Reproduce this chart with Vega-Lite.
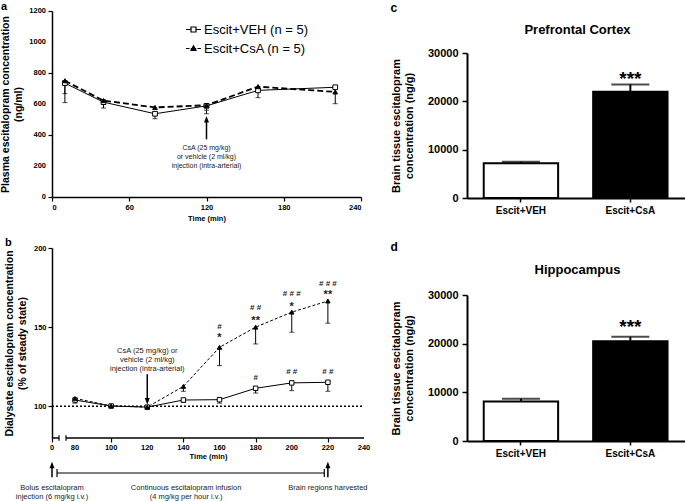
{
  "$schema": "https://vega.github.io/schema/vega-lite/v6.json",
  "padding": {"left": 0, "top": 0, "right": 0, "bottom": 0},
  "background": "white",
  "config": {
    "font": "Liberation Sans",
    "view": {"stroke": null},
    "axis": {"domainColor": "black", "tickColor": "black", "labelColor": "black", "titleColor": "black", "grid": false, "labelFontWeight": "bold", "titleFontWeight": "bold", "domainWidth": 1.5, "tickWidth": 1.2},
    "title": {"color": "black"}
  },
  "datasets": {
    "aData": [
      {"group": "Escit+VEH (n = 5)", "t": 10, "y": 735, "lo": 667},
      {"group": "Escit+VEH (n = 5)", "t": 40, "y": 612, "lo": 574},
      {"group": "Escit+VEH (n = 5)", "t": 80, "y": 537, "lo": 505},
      {"group": "Escit+VEH (n = 5)", "t": 120, "y": 588, "lo": 537},
      {"group": "Escit+VEH (n = 5)", "t": 160, "y": 688, "lo": 641},
      {"group": "Escit+VEH (n = 5)", "t": 220, "y": 708, "lo": null},
      {"group": "Escit+CsA (n = 5)", "t": 10, "y": 750, "lo": 609},
      {"group": "Escit+CsA (n = 5)", "t": 40, "y": 622, "lo": 598},
      {"group": "Escit+CsA (n = 5)", "t": 80, "y": 578, "lo": null},
      {"group": "Escit+CsA (n = 5)", "t": 120, "y": 592, "lo": 560},
      {"group": "Escit+CsA (n = 5)", "t": 160, "y": 712, "lo": null},
      {"group": "Escit+CsA (n = 5)", "t": 220, "y": 678, "lo": 602}
    ],
    "aYLabels": [{"v": 0}, {"v": 200}, {"v": 400}, {"v": 600}, {"v": 800}, {"v": 1000}, {"v": 1200}],
    "aNote": [
      {"t": 120, "y": 318, "text": "CsA (25 mg/kg)"},
      {"t": 120, "y": 260, "text": "or vehicle (2 ml/kg)"},
      {"t": 120, "y": 200, "text": "injection (intra-arterial)"}
    ],
    "aArrow": [{"t": 120, "y1": 372, "y2": 495, "tip": 522}],
    "bData": [
      {"group": "Escit+VEH (n = 5)", "t": 80, "y": 104, "lo": 102},
      {"group": "Escit+VEH (n = 5)", "t": 100, "y": 100.2, "lo": null},
      {"group": "Escit+VEH (n = 5)", "t": 120, "y": 99.5, "lo": null},
      {"group": "Escit+VEH (n = 5)", "t": 140, "y": 104, "lo": 102.5},
      {"group": "Escit+VEH (n = 5)", "t": 160, "y": 104.2, "lo": 102},
      {"group": "Escit+VEH (n = 5)", "t": 180, "y": 111.4, "lo": 108.4},
      {"group": "Escit+VEH (n = 5)", "t": 200, "y": 114.8, "lo": 109.9},
      {"group": "Escit+VEH (n = 5)", "t": 220, "y": 115.2, "lo": 109.5},
      {"group": "Escit+CsA (n = 5)", "t": 80, "y": 105, "lo": null},
      {"group": "Escit+CsA (n = 5)", "t": 100, "y": 100.3, "lo": null},
      {"group": "Escit+CsA (n = 5)", "t": 120, "y": 99.5, "lo": null},
      {"group": "Escit+CsA (n = 5)", "t": 140, "y": 112.6, "lo": 109.5},
      {"group": "Escit+CsA (n = 5)", "t": 160, "y": 137.3, "lo": 125.7},
      {"group": "Escit+CsA (n = 5)", "t": 180, "y": 150, "lo": 139.4},
      {"group": "Escit+CsA (n = 5)", "t": 200, "y": 159.5, "lo": 146.8},
      {"group": "Escit+CsA (n = 5)", "t": 220, "y": 166.5, "lo": 152.5}
    ],
    "bXLabels": [{"t": 0}, {"t": 80}, {"t": 100}, {"t": 120}, {"t": 140}, {"t": 160}, {"t": 180}, {"t": 200}, {"t": 220}, {"t": 240}],
    "bSig": [
      {"t": 160, "y": 150, "text": "#"},
      {"t": 160, "y": 142.9, "text": "*"},
      {"t": 180, "y": 162, "text": "# #"},
      {"t": 180, "y": 153.6, "text": "**"},
      {"t": 200, "y": 170.7, "text": "# # #"},
      {"t": 200, "y": 162.7, "text": "*"},
      {"t": 220, "y": 177.4, "text": "# # #"},
      {"t": 220, "y": 170.1, "text": "**"},
      {"t": 180, "y": 118, "text": "#"},
      {"t": 200, "y": 121.5, "text": "# #"},
      {"t": 220, "y": 121.5, "text": "# #"}
    ],
    "bNote": [
      {"t": 120, "y": 134.8, "text": "CsA (25 mg/kg) or"},
      {"t": 120, "y": 129.1, "text": "vehicle (2 ml/kg)"},
      {"t": 120, "y": 123.4, "text": "injection (intra-arterial)"},
      {"t": 0, "y": 48.4, "text": "Bolus escitalopram"},
      {"t": 0, "y": 42.8, "text": "injection (6 mg/kg i.v.)"},
      {"t": 141.5, "y": 48.4, "text": "Continuous escitalopram infusion"},
      {"t": 141.5, "y": 42.8, "text": "(4 mg/kg per hour i.v.)"},
      {"t": 220, "y": 48.4, "text": "Brain regions harvested"}
    ],
    "bDownArrow": [{"t": 120, "y1": 120.3, "y2": 104, "tip": 101.2}],
    "bUpArrows": [
      {"t": 0, "y1": 55.2, "y2": 62, "tip": 65},
      {"t": 220, "y1": 55.2, "y2": 62, "tip": 65}
    ],
    "bAxisLine": [
      {"a": 0, "b": 37.5},
      {"a": 75, "b": 240}
    ],
    "bBreaks": [{"t": 37.5}, {"t": 75}],
    "bBracket": [{"a": 27, "b": 218}],
    "bBracketEnds": [{"t": 27}, {"t": 218}],
    "cData": [
      {"grp": "Escit+VEH", "v": 7200, "err": 7500},
      {"grp": "Escit+CsA", "v": 22000, "err": 23500, "sig": "***"}
    ],
    "dData": [
      {"grp": "Escit+VEH", "v": 8100, "err": 8700},
      {"grp": "Escit+CsA", "v": 20500, "err": 21400, "sig": "***"}
    ]
  },
  "spacing": 19,
  "align": "none",
  "hconcat": [
    {
      "spacing": 15,
      "vconcat": [
        {
          "width": 309,
          "height": 186,
          "title": {"text": "a", "anchor": "start", "frame": "bounds", "fontSize": 11, "fontWeight": "bold", "offset": -4.5},
          "layer": [
            {
              "data": {"name": "aData"},
              "transform": [{"filter": "datum.group === 'Escit+VEH (n = 5)'"}],
              "mark": {"type": "line", "color": "black", "strokeWidth": 1},
              "encoding": {
                "x": {"field": "t", "type": "quantitative", "scale": {"domain": [0, 240], "nice": false},
                  "axis": {"values": [0, 30, 60, 90, 120, 150, 180, 210, 240], "labelExpr": "datum.value % 60 == 0 ? datum.label : ''", "labelOverlap": false, "title": "Time (min)", "labelFontSize": 7.5, "titleFontSize": 7.5, "tickSize": 4, "labelPadding": 2, "titlePadding": 4}},
                "y": {"field": "y", "type": "quantitative", "scale": {"domain": [0, 1200], "nice": false},
                  "axis": {"values": [0, 100, 200, 300, 400, 500, 600, 700, 800, 900, 1000, 1100, 1200], "labels": false, "title": ["Plasma escitalopram concentration", "(ng/ml)"], "titleFontSize": 10.5, "tickSize": 4, "titlePadding": 24}}
              }
            },
            {
              "data": {"name": "aYLabels"},
              "mark": {"type": "text", "fontSize": 7.5, "fontWeight": "bold", "color": "black", "align": "right", "baseline": "middle", "dx": -6, "clip": false},
              "encoding": {
                "x": {"datum": 0, "type": "quantitative"},
                "y": {"field": "v", "type": "quantitative"},
                "text": {"field": "v", "type": "quantitative", "format": "d"}
              }
            },
            {
              "data": {"name": "aData"},
              "transform": [{"filter": "datum.group === 'Escit+CsA (n = 5)'"}],
              "mark": {"type": "line", "color": "black", "strokeWidth": 1.8, "strokeDash": [6, 3]},
              "encoding": {
                "x": {"field": "t", "type": "quantitative"},
                "y": {"field": "y", "type": "quantitative"}
              }
            },
            {
              "data": {"name": "aData"},
              "transform": [{"filter": "isValid(datum.lo)"}],
              "mark": {"type": "rule", "color": "black", "strokeWidth": 1},
              "encoding": {
                "x": {"field": "t", "type": "quantitative"},
                "y": {"field": "y", "type": "quantitative"},
                "y2": {"field": "lo"}
              }
            },
            {
              "data": {"name": "aData"},
              "transform": [{"filter": "isValid(datum.lo)"}],
              "mark": {"type": "tick", "orient": "horizontal", "color": "black", "size": 5, "thickness": 1},
              "encoding": {
                "x": {"field": "t", "type": "quantitative"},
                "y": {"field": "lo", "type": "quantitative"}
              }
            },
            {
              "data": {"name": "aData"},
              "mark": {"type": "point", "filled": true, "opacity": 1, "stroke": "black", "strokeWidth": 1},
              "encoding": {
                "x": {"field": "t", "type": "quantitative"},
                "y": {"field": "y", "type": "quantitative"},
                "shape": {"condition": {"test": "datum.group === 'Escit+VEH (n = 5)'", "value": "square"}, "value": "triangle-up"},
                "fill": {"condition": {"test": "datum.group === 'Escit+VEH (n = 5)'", "value": "white"}, "value": "black"},
                "size": {"value": 22}
              }
            },
            {
              "data": {"name": "aData"},
              "mark": {"type": "point", "filled": true, "opacity": 0, "strokeWidth": 1.2},
              "encoding": {
                "x": {"field": "t", "type": "quantitative"},
                "y": {"field": "y", "type": "quantitative"},
                "shape": {"field": "group", "type": "nominal", "scale": {"domain": ["Escit+VEH (n = 5)", "Escit+CsA (n = 5)"], "range": ["M-3,0H-1M1,0H3M-1,-1H1V1H-1Z", "M-3,0H-1.6M-1.1,0H-0.6M0.6,0H1.1M1.6,0H3M0,-1.1L1,0.8H-1Z"]},
                  "legend": {"orient": "none", "legendX": 135, "legendY": 12, "title": null, "labelFontSize": 13, "labelFontWeight": "normal", "labelColor": "black", "symbolSize": 25, "rowPadding": 5, "labelOffset": 4, "symbolStrokeWidth": 1.2, "symbolOpacity": 1, "padding": 0}},
                "fill": {"field": "group", "type": "nominal", "scale": {"domain": ["Escit+VEH (n = 5)", "Escit+CsA (n = 5)"], "range": ["white", "black"]},
                  "legend": {"orient": "none", "legendX": 135, "legendY": 12, "title": null, "labelFontSize": 13, "labelFontWeight": "normal", "labelColor": "black", "symbolSize": 25, "rowPadding": 5, "labelOffset": 4, "symbolStrokeWidth": 1.2, "symbolOpacity": 1, "padding": 0}},
                "stroke": {"field": "group", "type": "nominal", "scale": {"domain": ["Escit+VEH (n = 5)", "Escit+CsA (n = 5)"], "range": ["black", "black"]},
                  "legend": {"orient": "none", "legendX": 135, "legendY": 12, "title": null, "labelFontSize": 13, "labelFontWeight": "normal", "labelColor": "black", "symbolSize": 25, "rowPadding": 5, "labelOffset": 4, "symbolStrokeWidth": 1.2, "symbolOpacity": 1, "padding": 0}},
                "size": {"value": 25}
              }
            },
            {
              "data": {"name": "aArrow"},
              "mark": {"type": "rule", "color": "black", "strokeWidth": 1.5},
              "encoding": {
                "x": {"field": "t", "type": "quantitative"},
                "y": {"field": "y1", "type": "quantitative"},
                "y2": {"field": "y2"}
              }
            },
            {
              "data": {"name": "aArrow"},
              "mark": {"type": "point", "filled": true, "color": "black", "opacity": 1, "shape": "M-1,2.6L1,2.6L0,0Z", "size": 25},
              "encoding": {
                "x": {"field": "t", "type": "quantitative"},
                "y": {"field": "tip", "type": "quantitative"}
              }
            },
            {
              "data": {"name": "aNote"},
              "mark": {"type": "text", "fontSize": 7, "color": "#222", "baseline": "middle", "align": "center"},
              "encoding": {
                "x": {"field": "t", "type": "quantitative"},
                "y": {"field": "y", "type": "quantitative"},
                "text": {"field": "text"}
              }
            }
          ]
        },
        {
          "width": 312,
          "height": 190,
          "title": {"text": "b", "anchor": "start", "frame": "bounds", "fontSize": 11, "fontWeight": "bold", "offset": -4},
          "layer": [
            {
              "data": {"values": [{"v": 100, "a": 0, "b": 240}]},
              "mark": {"type": "rule", "color": "black", "strokeWidth": 1.5, "strokeDash": [2, 2]},
              "encoding": {
                "x": {"field": "a", "type": "quantitative", "scale": {"domain": [0, 75, 240], "range": [0, 14, 312], "nice": false, "zero": false},
                  "axis": {"values": [0, 80, 100, 120, 140, 160, 180, 200, 220, 240], "labels": false, "domain": false, "title": "Time (min)", "titleFontSize": 7.5, "tickSize": 4, "titlePadding": 10}},
                "x2": {"field": "b"},
                "y": {"field": "v", "type": "quantitative", "scale": {"domain": [80, 200], "nice": false, "zero": false},
                  "axis": {"values": [100, 150, 200], "labelOverlap": false, "title": ["Dialysate escitalopram concentration", "(% of steady state)"], "labelFontSize": 7.5, "titleFontSize": 10.5, "tickSize": 4, "labelPadding": 2, "titlePadding": 6}}
              }
            },
            {
              "data": {"name": "bXLabels"},
              "mark": {"type": "text", "fontSize": 7.5, "fontWeight": "bold", "color": "black", "align": "center", "baseline": "top", "dy": 6, "clip": false},
              "encoding": {
                "x": {"field": "t", "type": "quantitative"},
                "y": {"datum": 80, "type": "quantitative"},
                "text": {"field": "t", "type": "quantitative", "format": "d"}
              }
            },
            {
              "data": {"name": "bAxisLine"},
              "mark": {"type": "rule", "color": "black", "strokeWidth": 1.5, "clip": false},
              "encoding": {
                "x": {"field": "a", "type": "quantitative"},
                "x2": {"field": "b"},
                "y": {"datum": 80}
              }
            },
            {
              "data": {"name": "bBreaks"},
              "mark": {"type": "rule", "color": "black", "strokeWidth": 1.2, "clip": false},
              "encoding": {
                "x": {"field": "t", "type": "quantitative"},
                "y": {"datum": 78.2},
                "y2": {"datum": 81.8}
              }
            },
            {
              "data": {"name": "bData"},
              "transform": [{"filter": "datum.group === 'Escit+VEH (n = 5)'"}],
              "mark": {"type": "line", "color": "black", "strokeWidth": 1},
              "encoding": {
                "x": {"field": "t", "type": "quantitative"},
                "y": {"field": "y", "type": "quantitative"}
              }
            },
            {
              "data": {"name": "bData"},
              "transform": [{"filter": "datum.group === 'Escit+CsA (n = 5)'"}],
              "mark": {"type": "line", "color": "black", "strokeWidth": 1, "strokeDash": [3, 2]},
              "encoding": {
                "x": {"field": "t", "type": "quantitative"},
                "y": {"field": "y", "type": "quantitative"}
              }
            },
            {
              "data": {"name": "bData"},
              "transform": [{"filter": "isValid(datum.lo)"}],
              "mark": {"type": "rule", "color": "black", "strokeWidth": 1},
              "encoding": {
                "x": {"field": "t", "type": "quantitative"},
                "y": {"field": "y", "type": "quantitative"},
                "y2": {"field": "lo"}
              }
            },
            {
              "data": {"name": "bData"},
              "transform": [{"filter": "isValid(datum.lo)"}],
              "mark": {"type": "tick", "orient": "horizontal", "color": "black", "size": 5, "thickness": 1},
              "encoding": {
                "x": {"field": "t", "type": "quantitative"},
                "y": {"field": "lo", "type": "quantitative"}
              }
            },
            {
              "data": {"name": "bData"},
              "mark": {"type": "point", "filled": true, "opacity": 1, "stroke": "black", "strokeWidth": 1},
              "encoding": {
                "x": {"field": "t", "type": "quantitative"},
                "y": {"field": "y", "type": "quantitative"},
                "shape": {"condition": {"test": "datum.group === 'Escit+VEH (n = 5)'", "value": "square"}, "value": "triangle-up"},
                "fill": {"condition": {"test": "datum.group === 'Escit+VEH (n = 5)'", "value": "white"}, "value": "black"},
                "size": {"value": 20}
              }
            },
            {
              "data": {"name": "bSig"},
              "mark": {"type": "text", "fontSize": 8, "fontWeight": "bold", "color": "#222", "baseline": "middle", "align": "center"},
              "encoding": {
                "x": {"field": "t", "type": "quantitative"},
                "y": {"field": "y", "type": "quantitative"},
                "text": {"field": "text"},
                "size": {"condition": {"test": "indexof(datum.text, '*') >= 0", "value": 11}, "value": 8}
              }
            },
            {
              "data": {"name": "bDownArrow"},
              "mark": {"type": "rule", "color": "black", "strokeWidth": 1.5},
              "encoding": {
                "x": {"field": "t", "type": "quantitative"},
                "y": {"field": "y1", "type": "quantitative"},
                "y2": {"field": "y2"}
              }
            },
            {
              "data": {"name": "bDownArrow"},
              "mark": {"type": "point", "filled": true, "color": "black", "opacity": 1, "size": 25, "shape": "M-1,-2.6L1,-2.6L0,0Z"},
              "encoding": {
                "x": {"field": "t", "type": "quantitative"},
                "y": {"field": "tip", "type": "quantitative"}
              }
            },
            {
              "data": {"name": "bUpArrows"},
              "mark": {"type": "rule", "color": "black", "strokeWidth": 1.5, "clip": false},
              "encoding": {
                "x": {"field": "t", "type": "quantitative"},
                "y": {"field": "y1", "type": "quantitative"},
                "y2": {"field": "y2"}
              }
            },
            {
              "data": {"name": "bUpArrows"},
              "mark": {"type": "point", "filled": true, "color": "black", "opacity": 1, "size": 25, "shape": "M-1,2.6L1,2.6L0,0Z", "clip": false},
              "encoding": {
                "x": {"field": "t", "type": "quantitative"},
                "y": {"field": "tip", "type": "quantitative"}
              }
            },
            {
              "data": {"name": "bBracket"},
              "mark": {"type": "rule", "color": "black", "strokeWidth": 1.2, "clip": false},
              "encoding": {
                "x": {"field": "a", "type": "quantitative"},
                "x2": {"field": "b"},
                "y": {"datum": 57.9}
              }
            },
            {
              "data": {"name": "bBracketEnds"},
              "mark": {"type": "rule", "color": "black", "strokeWidth": 1.2, "clip": false},
              "encoding": {
                "x": {"field": "t", "type": "quantitative"},
                "y": {"datum": 55.4},
                "y2": {"datum": 60.5}
              }
            },
            {
              "data": {"name": "bNote"},
              "mark": {"type": "text", "fontSize": 7.5, "color": "#222", "baseline": "middle", "align": "center", "clip": false},
              "encoding": {
                "x": {"field": "t", "type": "quantitative"},
                "y": {"field": "y", "type": "quantitative"},
                "text": {"field": "text"}
              }
            }
          ]
        }
      ]
    },
    {
      "spacing": 26,
      "vconcat": [
        {
          "title": {"text": "c", "anchor": "start", "frame": "bounds", "fontSize": 12, "fontWeight": "bold", "offset": -4},
          "vconcat": [
            {
              "width": 221,
              "height": 187,
              "title": {"text": "Prefrontal Cortex", "fontSize": 13, "fontWeight": "bold", "anchor": "middle", "offset": -26},
              "data": {"name": "cData"},
              "layer": [
                {
                  "mark": {"type": "bar", "stroke": "black", "strokeWidth": 2},
                  "encoding": {
                    "x": {"field": "grp", "type": "nominal", "sort": null, "scale": {"paddingInner": 0.32, "paddingOuter": 0.17, "align": 0.45},
                      "axis": {"title": null, "labelAngle": 0, "labelFontSize": 10, "tickSize": 4, "domainWidth": 2, "tickWidth": 1.5, "labelPadding": 3}},
                    "y": {"field": "v", "type": "quantitative", "scale": {"domain": [0, 30000], "nice": false, "range": [187, 42]},
                      "axis": {"values": [0, 5000, 10000, 15000, 20000, 25000, 30000], "labelExpr": "datum.value % 10000 == 0 ? datum.label : ''", "labelOverlap": false, "format": "d", "title": ["Brain tissue escitalopram", "concentration (ng/g)"], "labelFontSize": 11, "titleFontSize": 11, "tickSize": 5, "domainWidth": 2, "tickWidth": 1.5, "labelPadding": 4, "titlePadding": 13}},
                    "fill": {"condition": {"test": "datum.grp === 'Escit+VEH'", "value": "white"}, "value": "black"}
                  }
                },
                {
                  "mark": {"type": "rule", "color": "black", "strokeWidth": 2},
                  "encoding": {
                    "x": {"field": "grp", "type": "nominal", "sort": null},
                    "y": {"field": "v", "type": "quantitative"},
                    "y2": {"field": "err"}
                  }
                },
                {
                  "mark": {"type": "tick", "orient": "horizontal", "color": "black", "size": 38, "thickness": 2},
                  "encoding": {
                    "x": {"field": "grp", "type": "nominal", "sort": null},
                    "y": {"field": "err", "type": "quantitative"}
                  }
                },
                {
                  "transform": [{"filter": "isValid(datum.sig)"}],
                  "mark": {"type": "text", "fontSize": 19, "fontWeight": "bold", "color": "black", "baseline": "alphabetic", "align": "center", "dy": 1},
                  "encoding": {
                    "x": {"field": "grp", "type": "nominal", "sort": null},
                    "y": {"field": "err", "type": "quantitative"},
                    "text": {"field": "sig"}
                  }
                }
              ]
            }
          ]
        },
        {
          "title": {"text": "d", "anchor": "start", "frame": "bounds", "fontSize": 12, "fontWeight": "bold", "offset": 10},
          "vconcat": [
            {
              "width": 221,
              "height": 146,
              "title": {"text": "Hippocampus", "fontSize": 13, "fontWeight": "bold", "anchor": "middle", "offset": 12},
              "data": {"name": "dData"},
              "layer": [
                {
                  "mark": {"type": "bar", "stroke": "black", "strokeWidth": 2},
                  "encoding": {
                    "x": {"field": "grp", "type": "nominal", "sort": null, "scale": {"paddingInner": 0.32, "paddingOuter": 0.17, "align": 0.45},
                      "axis": {"title": null, "labelAngle": 0, "labelFontSize": 10, "tickSize": 4, "domainWidth": 2, "tickWidth": 1.5, "labelPadding": 3}},
                    "y": {"field": "v", "type": "quantitative", "scale": {"domain": [0, 30000], "nice": false},
                      "axis": {"values": [0, 5000, 10000, 15000, 20000, 25000, 30000], "labelExpr": "datum.value % 10000 == 0 ? datum.label : ''", "labelOverlap": false, "format": "d", "title": ["Brain tissue escitalopram", "concentration (ng/g)"], "labelFontSize": 11, "titleFontSize": 11, "tickSize": 5, "domainWidth": 2, "tickWidth": 1.5, "labelPadding": 4, "titlePadding": 13}},
                    "fill": {"condition": {"test": "datum.grp === 'Escit+VEH'", "value": "white"}, "value": "black"}
                  }
                },
                {
                  "mark": {"type": "rule", "color": "black", "strokeWidth": 2},
                  "encoding": {
                    "x": {"field": "grp", "type": "nominal", "sort": null},
                    "y": {"field": "v", "type": "quantitative"},
                    "y2": {"field": "err"}
                  }
                },
                {
                  "mark": {"type": "tick", "orient": "horizontal", "color": "black", "size": 38, "thickness": 2},
                  "encoding": {
                    "x": {"field": "grp", "type": "nominal", "sort": null},
                    "y": {"field": "err", "type": "quantitative"}
                  }
                },
                {
                  "transform": [{"filter": "isValid(datum.sig)"}],
                  "mark": {"type": "text", "fontSize": 19, "fontWeight": "bold", "color": "black", "baseline": "alphabetic", "align": "center", "dy": -4},
                  "encoding": {
                    "x": {"field": "grp", "type": "nominal", "sort": null},
                    "y": {"field": "err", "type": "quantitative"},
                    "text": {"field": "sig"}
                  }
                }
              ]
            }
          ]
        }
      ]
    }
  ]
}
